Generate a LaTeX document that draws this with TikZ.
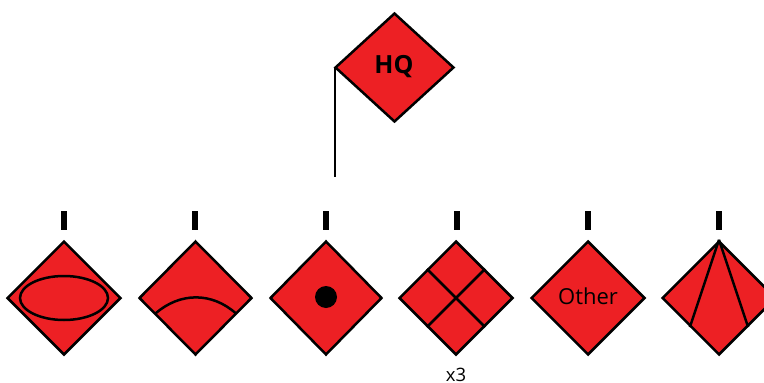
\documentclass[tikz,border=0pt]{standalone}
\usepackage{fontspec}
\setmainfont{Open Sans}
\usetikzlibrary{shapes.geometric}
\definecolor{hqred}{HTML}{ED2024}
\tikzset{
	unit/.style = {draw = black, fill = hqred, shape = diamond, line width = 2.5pt,
				   inner sep = 0pt, minimum width = 114pt, minimum height = 114pt},
	hq/.style = {unit, minimum width = 119pt, minimum height = 109pt},
	link/.style = {black, line width = 2.5pt},
	echelon/.style = {fill = black, shape = rectangle, inner sep = 0pt,
					  minimum width = 5.5pt, minimum height = 19pt}
}
\begin{document}
\begin{tikzpicture}[x = 1pt, y = -1pt]
	\useasboundingbox (0,0) rectangle (764,383);

	% headquarters and its staff
	\draw (394.5,67.5) node[hq] (HQ) {};
	\draw (394,64) node[text depth = 0pt, font = \bfseries\fontsize{25}{25}\selectfont] (HQtext) {HQ};
	\coordinate (HQfoot) at (335,177);
	\draw[link] (HQfoot |- HQ.west) -- (HQfoot);

	% the row of units, each with its mark above
	\foreach \name/\x/\w/\m in {ellipse/64/114/64, arc/195.5/113/195, dot/326/112/326,
								cross/456/114/457, other/588/114/588, fan/719/114/719} {
		\draw (\x,298) node[unit, minimum width = \w pt] (\name) {};
		\draw (\m,220.5) node[echelon] (\name mark) {};
	}

	\draw (64,298) node[draw = black, shape = ellipse, line width = 2.5pt, inner sep = 0pt,
					 minimum width = 88pt, minimum height = 44pt] (oval) {};

	\coordinate (arcL) at (155.5,313.5);
	\coordinate (arcR) at (236,313.5);
	\draw[link] (arcL) .. controls (180,292) and (212,292) .. (arcR);

	\draw (326,297) node[fill = black, shape = circle, inner sep = 0pt,
					 minimum size = 22pt] (spot) {};

	\draw[link] (cross.north west) -- (cross.south east);
	\draw[link] (cross.north east) -- (cross.south west);

	\draw (588,296) node[font = \fontsize{22}{22}\selectfont] (othertext) {Other};

	\draw[link] (fan.north) -- (fan.south west);
	\draw[link] (fan.north) -- (fan.south east);

	\draw (456,374.5) node[inner sep = 0pt, text depth = 0pt, font = \fontsize{18.5}{18.5}\selectfont] (count) {x3};
\end{tikzpicture}
\end{document}
